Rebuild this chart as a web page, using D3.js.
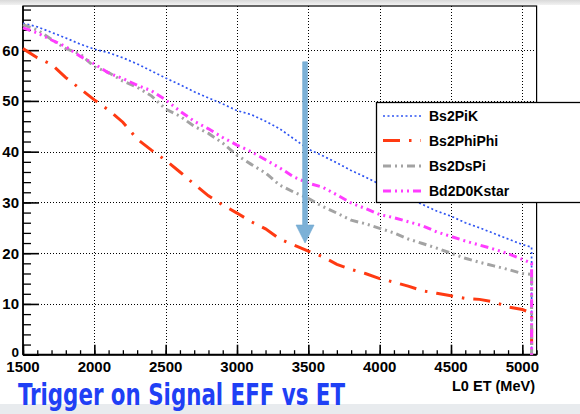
<!DOCTYPE html>
<html>
<head>
<meta charset="utf-8">
<script src="https://cdn.jsdelivr.net/npm/d3@7"></script>
<style>
  html, body { margin: 0; padding: 0; background: #fff; }
  svg { display: block; }
</style>
</head>
<body>
<svg id="chart" width="580" height="414"></svg>
<script>
// Bin edges in L0 ET (MeV); the last entry closes the final bin.
const etEdges = [1500, 1600, 1700, 1800, 1900, 2000, 2100, 2200, 2300, 2400,
                 2500, 2600, 2700, 2800, 2900, 3000, 3100, 3200, 3300, 3400,
                 3500, 3600, 3700, 3800, 3900, 4000, 4100, 4200, 4300, 4400,
                 4500, 4600, 4700, 4800, 4900, 5000, 5065];

// Trigger efficiency (%) per channel
const bs2PiK = [65.3, 64.6, 63.5, 62.4, 61.2, 60.2, 59.5, 58.5, 57.3, 55.9,
                54.5, 53.2, 51.8, 50.6, 49.4, 48.1, 47.3, 46.0, 44.5, 42.5,
                40.5, 39.2, 37.8, 36.3, 35.0, 33.6, 32.2, 30.9, 29.6, 28.3,
                27.3, 26.0, 25.0, 23.9, 22.8, 21.7, 21.2];
const bs2PhiPhi = [60.3, 58.5, 57.2, 54.6, 52.4, 50.2, 48.2, 45.8, 42.5, 40.3,
                   38.3, 36.0, 33.6, 31.3, 29.5, 27.9, 26.2, 24.8, 22.8, 21.6,
                   20.4, 19.3, 17.8, 16.8, 16.0, 15.0, 14.3, 13.5, 12.6, 12.1,
                   11.6, 11.1, 10.9, 10.4, 9.4, 8.9, 8.2];
const bs2DsPi = [65.0, 64.0, 62.1, 60.3, 59.3, 56.7, 55.6, 53.9, 52.7, 51.0,
                 48.4, 47.0, 45.0, 43.6, 41.7, 39.3, 37.5, 35.8, 33.4, 32.0,
                 30.8, 29.2, 27.9, 26.5, 25.8, 24.9, 24.0, 22.8, 21.9, 21.0,
                 20.0, 19.0, 18.2, 17.5, 16.8, 16.0, 15.8];
const bd2D0Kstar = [64.4, 63.4, 62.0, 60.7, 58.8, 57.3, 55.5, 54.4, 53.1, 52.0,
                    50.2, 48.0, 46.0, 44.5, 42.8, 41.3, 40.0, 38.4, 36.8, 35.0,
                    33.8, 33.0, 31.5, 29.9, 28.8, 27.6, 27.0, 26.2, 25.4, 24.2,
                    23.3, 22.4, 21.6, 20.8, 19.9, 18.8, 18.0];

const seriesNames = ["Bs2PiK", "Bs2PhiPhi", "Bs2DsPi", "Bd2D0Kstar"];
const seriesValues = [bs2PiK, bs2PhiPhi, bs2DsPi, bd2D0Kstar];

const xTickValues = [1500, 2000, 2500, 3000, 3500, 4000, 4500, 5000];
const yTickValues = [0, 10, 20, 30, 40, 50, 60];
const xAxisTitle = "L0 ET (MeV)";
const caption = "Trigger on Signal EFF vs ET";

// Arrow marking the working point
const arrowEt = 3477, arrowFrom = 57.7, arrowTo = 22.0;

// ---- styles ----
const styles = [
  { color: "#2f55f2", width: 1.7, dash: "2,2.5" },
  { color: "#ff3a12", width: 3,   dash: "17,9,2.5,9" },
  { color: "#a3a3a3", width: 3,   dash: "8,4,2,4,2,4" },
  { color: "#ff3cff", width: 3,   dash: "8,4,2,4,2,4,2,4" }
];

const svg = d3.select("#chart");
const W = 580, H = 414;
const frame = { left: 23, right: 536.6, top: 6, bottom: 354.7 };

// page bands
const topGrad = svg.append("defs").append("linearGradient")
  .attr("id", "topband").attr("x1", 0).attr("x2", 0).attr("y1", 0).attr("y2", 1);
topGrad.append("stop").attr("offset", "0%").attr("stop-color", "#d9d9d9");
topGrad.append("stop").attr("offset", "100%").attr("stop-color", "#f2f2f2");
svg.append("rect").attr("x", 0).attr("y", 0).attr("width", W).attr("height", 5)
  .attr("fill", "url(#topband)");
svg.append("rect").attr("x", 0).attr("y", 404).attr("width", W).attr("height", 10)
  .attr("fill", "#e8ebee");

const x = d3.scaleLinear().domain([1500, 5100]).range([frame.left, frame.right]);
const y = d3.scaleLinear().domain([0, 68.7]).range([frame.bottom, frame.top]);

// grid
const grid = svg.append("g").attr("stroke", "#000").attr("stroke-width", 1)
  .attr("stroke-dasharray", "1,2").attr("fill", "none");
grid.selectAll("line.gx").data(xTickValues.filter(v => v > 1500))
  .join("line").attr("class", "gx")
  .attr("x1", d => Math.round(x(d)) + 0.5).attr("x2", d => Math.round(x(d)) + 0.5)
  .attr("y1", frame.top).attr("y2", frame.bottom);
grid.selectAll("line.gy").data(yTickValues.filter(v => v > 0))
  .join("line").attr("class", "gy")
  .attr("x1", frame.left).attr("x2", frame.right)
  .attr("y1", d => Math.round(y(d)) + 0.5).attr("y2", d => Math.round(y(d)) + 0.5);

// frame
svg.append("rect")
  .attr("x", frame.left).attr("y", frame.top)
  .attr("width", frame.right - frame.left).attr("height", frame.bottom - frame.top)
  .attr("fill", "none").attr("stroke", "#000").attr("stroke-width", 1.2);

// axes
const yMinor = d3.range(0, 69, 2);
const xMinor = d3.range(1500, 5101, 100);

const yAxis = d3.axisRight(y).tickValues(yMinor)
  .tickSize(8).tickFormat("");
svg.append("g").attr("transform", `translate(${frame.left},0)`).call(yAxis)
  .call(g => g.select(".domain").remove())
  .call(g => g.selectAll("line").attr("stroke-width", 1.3));
const yAxisMajor = d3.axisRight(y).tickValues(yTickValues).tickSize(16).tickFormat("");
svg.append("g").attr("transform", `translate(${frame.left},0)`).call(yAxisMajor)
  .call(g => g.select(".domain").remove())
  .call(g => g.selectAll("line").attr("stroke-width", 1.6));

const xAxis = d3.axisTop(x).tickValues(xMinor).tickSize(4.5).tickFormat("");
svg.append("g").attr("transform", `translate(0,${frame.bottom})`).call(xAxis)
  .call(g => g.select(".domain").remove())
  .call(g => g.selectAll("line").attr("stroke-width", 1.3));
const xAxisMajor = d3.axisTop(x).tickValues(xTickValues).tickSize(10).tickFormat("");
svg.append("g").attr("transform", `translate(0,${frame.bottom})`).call(xAxisMajor)
  .call(g => g.select(".domain").remove())
  .call(g => g.selectAll("line").attr("stroke-width", 1.6));

svg.append("line").attr("x1", frame.left).attr("x2", frame.right)
  .attr("y1", frame.bottom).attr("y2", frame.bottom)
  .attr("stroke", "#000").attr("stroke-width", 2);
svg.append("line").attr("x1", frame.left).attr("x2", frame.left)
  .attr("y1", frame.top).attr("y2", frame.bottom)
  .attr("stroke", "#000").attr("stroke-width", 1.6);

// tick labels
const labelFont = "'Liberation Sans', Arial, Helvetica, sans-serif";
svg.append("g").selectAll("text").data(xTickValues).join("text")
  .attr("x", d => x(d)).attr("y", 371.5)
  .attr("text-anchor", "middle")
  .attr("font-family", labelFont).attr("font-weight", "bold").attr("font-size", 15)
  .attr("fill", "#000").text(d => d);
svg.append("g").selectAll("text").data(yTickValues).join("text")
  .attr("x", 19).attr("y", d => d === 0 ? y(d) + 2.5 : y(d) + 5.5)
  .attr("text-anchor", "end")
  .attr("font-family", labelFont).attr("font-weight", "bold")
  .attr("font-size", d => d === 0 ? 13.5 : 15)
  .attr("fill", "#000").text(d => d);

svg.append("text").attr("x", 535).attr("y", 390.5).attr("text-anchor", "end")
  .attr("font-family", labelFont).attr("font-weight", "bold").attr("font-size", 14.5)
  .attr("fill", "#000").text(xAxisTitle);

// efficiency curves, each closed down to zero at the last edge
const plot = svg.append("g");
const line = d3.line().x(d => x(d[0])).y(d => y(d[1]));
seriesValues.forEach((vals, i) => {
  const pts = etEdges.map((e, j) => [e, vals[j]]);
  pts.push([etEdges[etEdges.length - 1], 0]);
  plot.append("path").datum(pts)
    .attr("d", line)
    .attr("fill", "none")
    .attr("stroke", styles[i].color)
    .attr("stroke-width", styles[i].width)
    .attr("stroke-dasharray", styles[i].dash);
});

// legend
const lg = svg.append("g");
lg.append("rect").attr("x", 376.5).attr("y", 102.5).attr("width", 230).attr("height", 100)
  .attr("fill", "#fff").attr("stroke", "#000").attr("stroke-width", 1.3);
const rowY = [116, 140.5, 166, 191];
seriesNames.forEach((name, i) => {
  lg.append("line").attr("x1", 383).attr("x2", 421)
    .attr("y1", rowY[i]).attr("y2", rowY[i])
    .attr("stroke", styles[i].color).attr("stroke-width", styles[i].width)
    .attr("stroke-dasharray", styles[i].dash);
  lg.append("text").attr("x", 429).attr("y", rowY[i] + 5)
    .attr("font-family", labelFont).attr("font-weight", "bold").attr("font-size", 14)
    .attr("fill", "#000").text(name);
});

// arrow
const ax = x(arrowEt), shaftHalf = 2.4, headHalf = 9, headLen = 18;
const tipY = y(arrowTo), topY = y(arrowFrom);
svg.append("path")
  .attr("d", `M${ax - shaftHalf},${topY} L${ax + shaftHalf},${topY} L${ax + shaftHalf},${tipY - headLen}
    L${ax + headHalf},${tipY - headLen} L${ax},${tipY} L${ax - headHalf},${tipY - headLen}
    L${ax - shaftHalf},${tipY - headLen} Z`)
  .attr("fill", "#7cb1d7").attr("stroke", "#6fa6cf").attr("stroke-width", 0.6);

// caption
svg.append("text").attr("x", 18).attr("y", 404.5)
  .attr("font-family", "'Liberation Sans Narrow', 'DejaVu Sans Condensed', 'Liberation Sans', sans-serif")
  .attr("font-weight", "bold").attr("font-size", 31)
  .attr("textLength", 327).attr("lengthAdjust", "spacingAndGlyphs")
  .attr("fill", "#1f40f5").text(caption);
</script>
</body>
</html>
